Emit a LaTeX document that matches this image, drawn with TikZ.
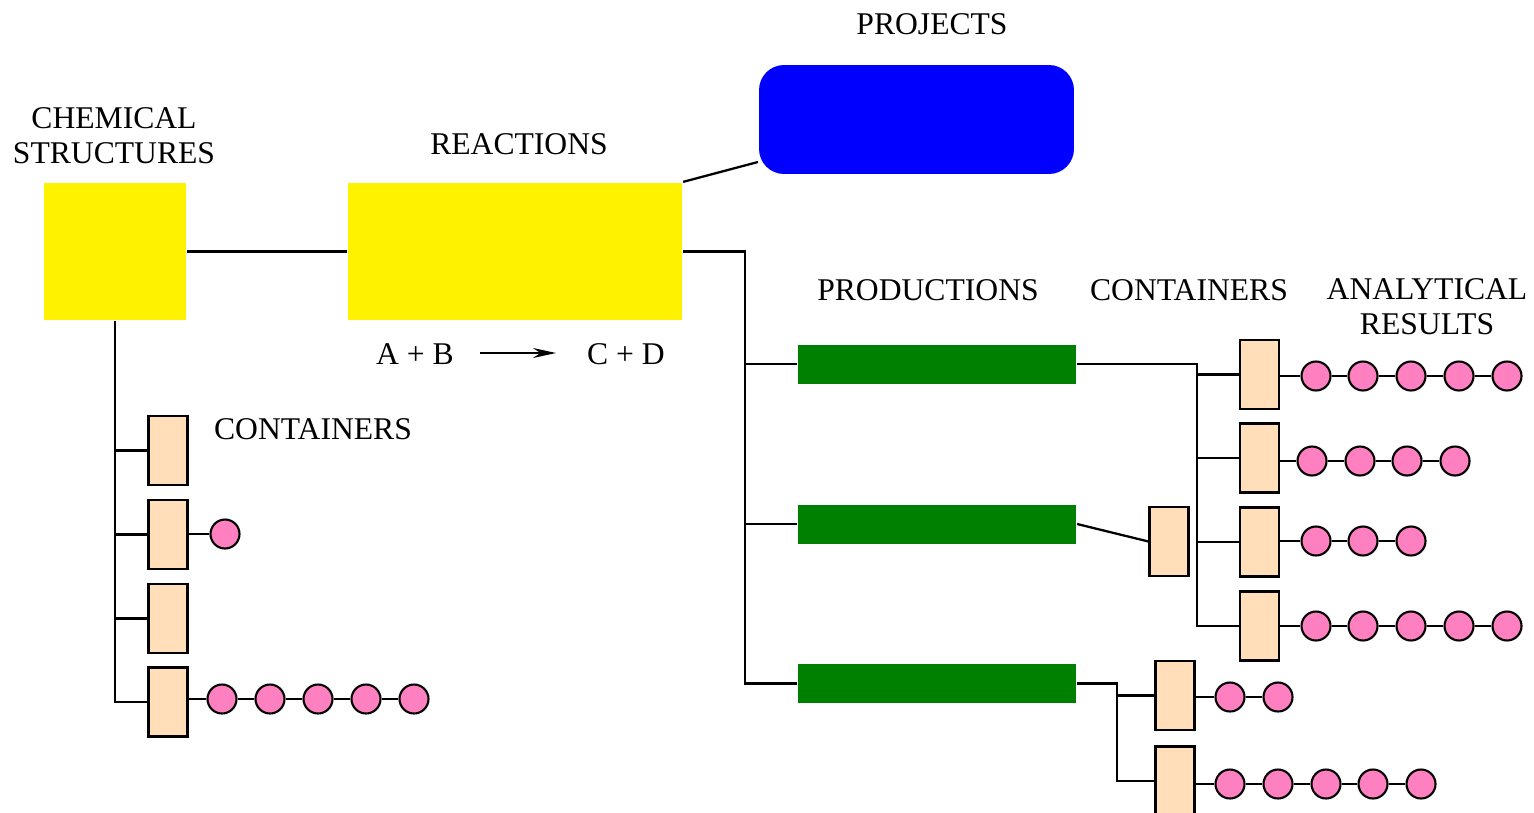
\documentclass[tikz,border=0pt]{standalone}
\usepackage{fontspec}
\setmainfont{Liberation Serif}
\usetikzlibrary{arrows.meta}
\definecolor{contfill}{HTML}{FFDEB9}
\definecolor{resfill}{HTML}{FF80C0}
\definecolor{prodgreen}{HTML}{008000}
\tikzset{
  lbl/.style={font=\fontsize{18}{19.8}\selectfont, align=center, anchor=base, inner sep=0pt},
  ybox/.style={fill=yellow, draw=none, inner sep=0pt, minimum height=2.74cm},
  projbox/.style={fill=blue, draw=none, rounded corners=0.5cm, minimum width=6.3cm, minimum height=2.18cm},
  prodbox/.style={fill=prodgreen, draw=none, inner sep=0pt, minimum width=5.56cm, minimum height=0.78cm},
  contbox/.style={fill=contfill, draw=black, line width=1.2pt, inner sep=0pt, minimum width=0.78cm, minimum height=1.38cm},
  res/.style={circle, fill=resfill, draw=black, line width=1.2pt, inner sep=0pt, minimum size=0.58cm},
  conn/.style={draw=black, line width=1.3pt}
}
\newcommand\reschain[5]{% prefix, container, y, list of x, count
  \foreach \xx [count=\ii] in {#4} {\node[res] (#1-\ii) at (\xx,#3) {};}
  \draw[conn] (#2.east |- #1-1) -- (#1-1);
  \ifnum#5>1
    \foreach \ii [evaluate=\ii as \jj using int(\ii-1)] in {2,...,#5} {\draw[conn] (#1-\jj) -- (#1-\ii);}
  \fi
}
\begin{document}
\begin{tikzpicture}[x=0.02cm, y=-0.02cm, line width=1.3pt]
\useasboundingbox (0,0) rectangle (1534,812);

% main boxes
\node[ybox, minimum width=2.84cm] (chem) at (115,251.5) {};
\node[ybox, minimum width=6.68cm] (react) at (515,251.5) {};
\node[projbox] (proj) at (916.5,119.5) {};
\node[prodbox] (p1) at (937,364) {};
\node[prodbox] (p2) at (937,524) {};
\node[prodbox] (p3) at (937,683.5) {};

% labels
\node[lbl] (tchem) at (114,163) {CHEMICAL\\STRUCTURES};
\node[lbl] (treact) at (519,154) {REACTIONS};
\node[lbl] (tproj) at (932,34) {PROJECTS};
\node[lbl] (tprod) at (928,300) {PRODUCTIONS};
\node[lbl] (tcont) at (1189,300) {CONTAINERS};
\node[lbl] (tana) at (1427,334) {ANALYTICAL\\RESULTS};
\node[lbl] (tcontl) at (313,439) {CONTAINERS};
\node[lbl] (tab) at (415,364) {A + B};
\node[lbl] (tcd) at (626,364) {C + D};
\coordinate (arS) at (480,353);
\coordinate (arE) at (556,353);
\draw[line width=0.9pt, -{Stealth[length=0.46cm, width=0.2cm]}] (arS) -- (arE);

% top connections
\draw[conn] (chem.east) -- (react.west);
\draw[conn] (react.north east) -- (proj.195);

% left containers
\node[contbox] (l1) at (168,450.5) {};
\node[contbox] (l2) at (168,534.5) {};
\node[contbox] (l3) at (168,618.5) {};
\node[contbox] (l4) at (168,702) {};
\draw[conn] (chem.south) |- (l4.west);
\draw[conn] (chem.south |- l1.west) -- (l1.west);
\draw[conn] (chem.south |- l2.west) -- (l2.west);
\draw[conn] (chem.south |- l3.west) -- (l3.west);
\reschain{l2c}{l2}{534}{225}{1}
\reschain{l4c}{l4}{699}{222,270,318,366,414}{5}

% productions bus
\coordinate (busA) at (745,0);
\draw[conn] (react.east) -| (busA |- p3.west) -- (p3.west);
\draw[conn] (busA |- p1.west) -- (p1.west);
\draw[conn] (busA |- p2.west) -- (p2.west);

% right containers
\node[contbox] (r1) at (1259.5,374.5) {};
\node[contbox] (r2) at (1259.5,458) {};
\node[contbox] (r3) at (1259.5,542) {};
\node[contbox] (r4) at (1259.5,626) {};
\node[contbox] (m1) at (1169,541.5) {};
\coordinate (busB) at (1197,0);
\draw[conn] (p1.east) -| (busB |- r4.west) -- (r4.west);
\draw[conn] (busB |- r1.west) -- (r1.west);
\draw[conn] (busB |- r2.west) -- (r2.west);
\draw[conn] (busB |- r3.west) -- (r3.west);
\draw[conn] (p2.east) -- (m1.west);
\reschain{r1c}{r1}{376}{1316,1363,1411,1459,1507}{5}
\reschain{r2c}{r2}{461}{1312,1360,1407,1455}{4}
\reschain{r3c}{r3}{541}{1316,1363,1411}{3}
\reschain{r4c}{r4}{626}{1316,1363,1411,1459,1507}{5}

% bottom containers
\node[contbox] (b1) at (1175,695.5) {};
\node[contbox] (b2) at (1175,781) {};
\coordinate (busC) at (1117,0);
\draw[conn] (p3.east) -| (busC |- b2.west) -- (b2.west);
\draw[conn] (busC |- b1.west) -- (b1.west);
\reschain{b1c}{b1}{697}{1230,1278}{2}
\reschain{b2c}{b2}{784}{1230,1278,1326,1373,1421}{5}
\end{tikzpicture}
\end{document}
